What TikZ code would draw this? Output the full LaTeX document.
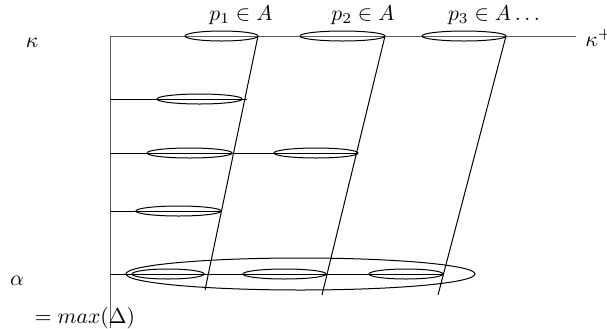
\documentclass[tikz,border=0pt]{standalone}
\begin{document}
\begin{tikzpicture}[x=0.5pt,y=-0.5pt,
  axis/.style={draw=black!65,line width=0.5pt},
  rowline/.style={draw=black,line width=0.45pt},
  oval/.style={draw=black,line width=0.5pt},
  slant/.style={draw=black,line width=0.5pt},
  lbl/.style={inner sep=0pt,scale=1.08}]
\useasboundingbox (0,0) rectangle (607,328);
% axes
\coordinate (o) at (110,36);
\coordinate (obot) at (110,328);
\coordinate (kend) at (576,36);
\draw[axis] (obot) -- (o) -- (kend);
% labels
\node[lbl] (kappa) at (32,43) {$\kappa$};
\node[lbl,anchor=west] (kplus) at (585,38) {$\kappa^+$};
\node[lbl] (alpha) at (17,281) {$\alpha$};
\node[lbl] (maxd) at (85,318) {$=max(\Delta)$};
\node[lbl] (p1) at (241,15) {$p_1\in A$};
\node[lbl] (p2) at (363,15) {$p_2\in A$};
\node[lbl] (p3) at (494,15) {$p_3\in A\ldots$};
% row lines
\coordinate (r1a) at (110,99);  \coordinate (r1b) at (247,99);
\coordinate (r2a) at (110,153); \coordinate (r2b) at (358,153);
\coordinate (r3a) at (110,211); \coordinate (r3b) at (221,211);
\coordinate (r4a) at (110,274); \coordinate (r4b) at (443,274);
\draw[rowline] (r1a) -- (r1b);
\draw[rowline] (r2a) -- (r2b);
\draw[rowline] (r3a) -- (r3b);
\draw[rowline] (r4a) -- (r4b);
% top ellipses
\draw[oval] (221.5,36) ellipse (36.5 and 5);
\draw[oval] (342.5,36) ellipse (42.5 and 5);
\draw[oval] (464,36) ellipse (42 and 5);
% row ellipses
\draw[oval] (199.5,99) ellipse (42.5 and 5);
\draw[oval] (189.5,153) ellipse (42.5 and 5);
\draw[oval] (316,153) ellipse (42 and 5);
\draw[oval] (178.5,211) ellipse (42.5 and 5);
\draw[oval] (168,274) ellipse (36 and 5);
\draw[oval] (284.5,274) ellipse (41.5 and 5);
\draw[oval] (406,274) ellipse (37 and 5);
\draw[oval] (300.5,274) ellipse (174.5 and 16);
% slanted lines
\coordinate (s1t) at (258,36); \coordinate (s1b) at (205,290);
\coordinate (s2t) at (385,36); \coordinate (s2b) at (322,295);
\coordinate (s3t) at (506,36); \coordinate (s3b) at (438,295);
\draw[slant] (s1t) -- (s1b);
\draw[slant] (s2t) -- (s2b);
\draw[slant] (s3t) -- (s3b);
\end{tikzpicture}
\end{document}
